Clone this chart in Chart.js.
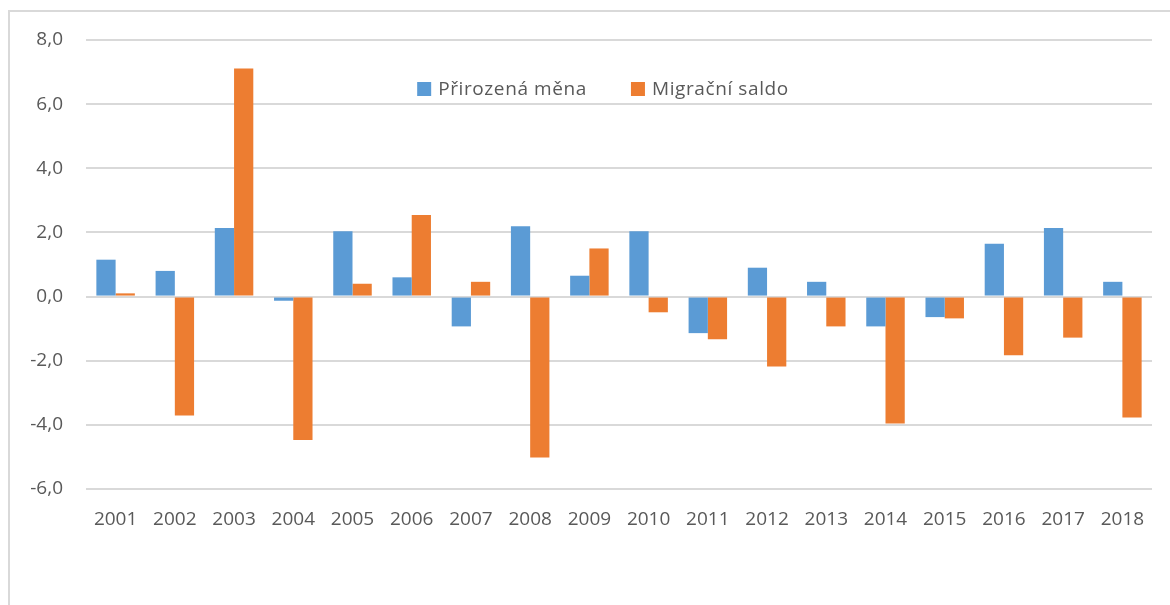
<!DOCTYPE html>
<html>
<head>
<meta charset="utf-8">
<script src="https://cdn.jsdelivr.net/npm/chart.js@4"></script>
<style>
  html, body { margin: 0; padding: 0; background: #fff; }
  #wrap { position: relative; width: 1170px; height: 605px; overflow: hidden; }
  #frame { position: absolute; left: 8px; top: 10px; width: 1200px; height: 700px;
           border-left: 2px solid #d9d9d9; border-top: 2px solid #d9d9d9; box-sizing: border-box; }
  canvas { position: absolute; left: 0; top: 0; }
</style>
</head>
<body>
<div id="wrap">
  <div id="frame"></div>
  <canvas id="c" width="1170" height="605"></canvas>
</div>
<script>
const years = ['2001','2002','2003','2004','2005','2006','2007','2008','2009','2010','2011','2012','2013','2014','2015','2016','2017','2018'];
const prirozenaMena = [1.15, 0.80, 2.14, -0.13, 2.04, 0.60, -0.93, 2.19, 0.65, 2.04, -1.14, 0.90, 0.46, -0.93, -0.64, 1.65, 2.14, 0.46];
const migracniSaldo = [0.10, -3.71, 7.11, -4.47, 0.40, 2.54, 0.46, -5.02, 1.50, -0.49, -1.33, -2.18, -0.93, -3.96, -0.68, -1.83, -1.28, -3.77];
const seriesNames = ['Přirozená měna', 'Migrační saldo'];
const yMin = -6, yMax = 8, yStep = 2;

const FONT = "'Open Sans', 'Liberation Sans', sans-serif";
const TXT = '#595959';

const legendPlugin = {
  id: 'customLegend',
  afterDraw(chart) {
    const ctx = chart.ctx;
    ctx.save();
    ctx.font = '19px ' + FONT;
    if ('letterSpacing' in ctx) ctx.letterSpacing = '0.6px';
    ctx.textBaseline = 'middle';
    const box = 14, gap = 7, spacing = 44;
    const items = chart.data.datasets.map(d => ({ label: d.label, color: d.backgroundColor, w: ctx.measureText(d.label).width }));
    let total = 0;
    items.forEach((it, i) => { total += box + gap + it.w + (i ? spacing : 0); });
    let x = 603 - total / 2;
    const y = 89;
    items.forEach((it, i) => {
      if (i) x += spacing;
      ctx.fillStyle = it.color;
      ctx.fillRect(x, y - box / 2, box, box);
      x += box + gap;
      ctx.fillStyle = TXT;
      ctx.textAlign = 'left';
      ctx.fillText(it.label, x, y + 1);
      x += it.w;
    });
    ctx.restore();
  }
};

new Chart(document.getElementById('c'), {
  type: 'bar',
  data: {
    labels: years,
    datasets: [
      { label: seriesNames[0], data: prirozenaMena, backgroundColor: '#5B9BD5' },
      { label: seriesNames[1], data: migracniSaldo, backgroundColor: '#ED7D31' }
    ]
  },
  options: {
    responsive: false,
    animation: false,
    layout: { padding: { left: 0, top: 40, right: 18, bottom: 0 } },
    plugins: { legend: { display: false }, tooltip: { enabled: false } },
    datasets: { bar: { categoryPercentage: 0.65, barPercentage: 1.0 } },
    scales: {
      x: {
        grid: { display: false, drawTicks: false },
        border: { display: false },
        ticks: { color: TXT, font: { family: FONT, size: 19 }, padding: 19, maxRotation: 0 },
        afterFit(s) { s.height = 116; }
      },
      y: {
        min: yMin, max: yMax,
        grid: { color: '#d9d9d9', lineWidth: 2, drawTicks: false },
        border: { display: false },
        ticks: {
          stepSize: yStep, color: TXT, font: { family: FONT, size: 19 }, padding: 23,
          callback: v => v.toFixed(1).replace('.', ',')
        },
        afterFit(s) { s.width = 86; }
      }
    }
  },
  plugins: [legendPlugin]
});
</script>
</body>
</html>
